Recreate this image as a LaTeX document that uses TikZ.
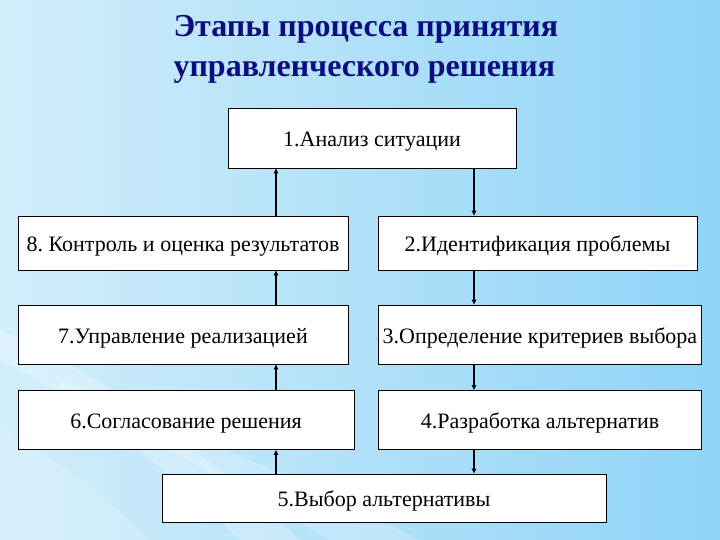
\documentclass[tikz,border=0pt]{standalone}
\usepackage{fontspec}
\setmainfont{Liberation Serif}
\usetikzlibrary{arrows.meta, positioning, calc, backgrounds}
\definecolor{SlideLight}{HTML}{D2EEFB}
\definecolor{SlideSky}{HTML}{8FD4F6}
\definecolor{TitleNavy}{HTML}{0D0D80}
\tikzset{
    % stage boxes - white, thin black frame
    stagebox/.style={
        rectangle,
        draw=black,
        fill=white,
        line width=0.9pt,
        align=center,
        inner sep=0pt,
        text height=17pt,
        text depth=0pt,
        font=\fontsize{22}{26}\selectfont
    },
    % arrow style
    arrow/.style={
        -{Triangle[length=5pt,width=4.5pt]},
        line width=1.4pt,
        draw=black
    }
}
\begin{document}
\begin{tikzpicture}[x=1pt, y=-1pt]
    % background
    \useasboundingbox (0,0) rectangle (720,540);
    \shade[left color=SlideLight, right color=SlideSky] (0,0) rectangle (720,540);
    \fill[white, opacity=0.25] (0,330) .. controls (120,380) and (220,470) .. (300,540) -- (240,540) .. controls (170,470) and (80,400) .. (0,360) -- cycle;
    \fill[white, opacity=0.2] (60,380) .. controls (160,420) and (300,480) .. (420,540) -- (330,540) .. controls (240,490) and (140,430) .. (60,400) -- cycle;
    \fill[white, opacity=0.15] (0,430) .. controls (60,460) and (110,500) .. (150,540) -- (0,540) -- cycle;

    % title
    \node[font=\fontsize{32}{40}\selectfont\bfseries, text=TitleNavy, align=left, anchor=north west] (title) at (170,12)
        {Этапы процесса принятия\\управленческого решения};

    % stages
    \node[stagebox, minimum width=288pt, minimum height=60pt] (s1) at (372,138) {1.Анализ ситуации};
    \node[stagebox, minimum width=319pt, minimum height=54pt] (s2) at (537.5,243) {2.Идентификация проблемы};
    \node[stagebox, minimum width=323pt, minimum height=59pt] (s3) at (540,334.5) {3.Определение критериев выбора};
    \node[stagebox, minimum width=323pt, minimum height=59pt] (s4) at (540,420) {4.Разработка альтернатив};
    \node[stagebox, minimum width=444pt, minimum height=48pt] (s5) at (384,498) {5.Выбор альтернативы};
    \node[stagebox, minimum width=336pt, minimum height=59pt] (s6) at (186,420) {6.Согласование решения};
    \node[stagebox, minimum width=330pt, minimum height=59pt] (s7) at (183,334.5) {7.Управление реализацией};
    \node[stagebox, minimum width=330pt, minimum height=54pt] (s8) at (183,243) {8.\ Контроль и оценка результатов};

    % arrow columns
    \coordinate (lx) at (276,0);
    \coordinate (rx) at (474,0);

    \draw[arrow] (s1.south -| rx) -- (s2.north -| rx);
    \draw[arrow] (s2.south -| rx) -- (s3.north -| rx);
    \draw[arrow] (s3.south -| rx) -- (s4.north -| rx);
    \draw[arrow] (s4.south -| rx) -- (s5.north -| rx);

    \draw[arrow] (s5.north -| lx) -- (s6.south -| lx);
    \draw[arrow] (s6.north -| lx) -- (s7.south -| lx);
    \draw[arrow] (s7.north -| lx) -- (s8.south -| lx);
    \draw[arrow] (s8.north -| lx) -- (s1.south -| lx);
\end{tikzpicture}
\end{document}
